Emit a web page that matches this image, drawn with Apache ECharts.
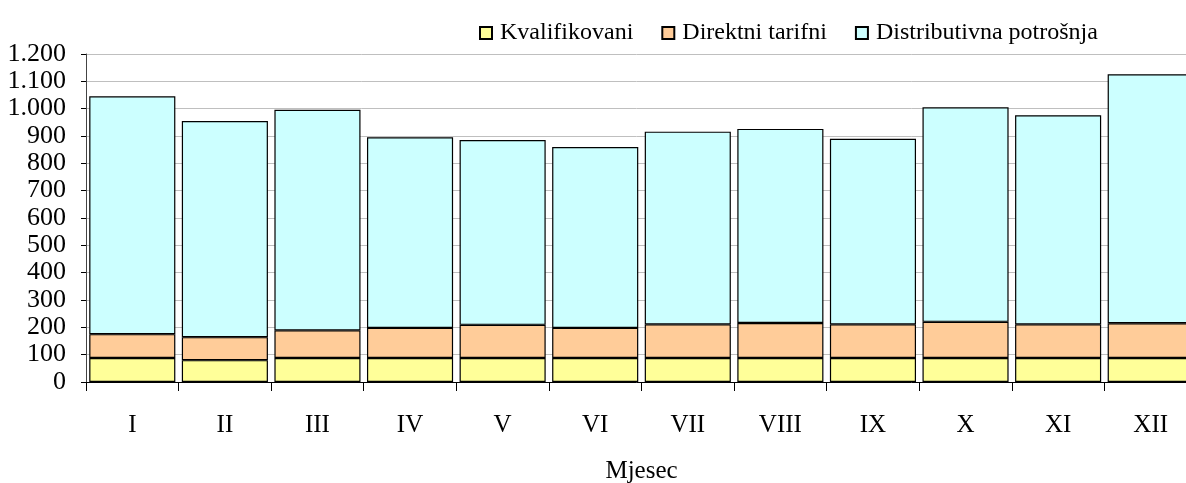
<!DOCTYPE html>
<html><head><meta charset="utf-8">
<script src="https://cdn.jsdelivr.net/npm/echarts@6/dist/echarts.min.js"></script>
<style>html,body{margin:0;padding:0;background:#fff}#c{width:1186px;height:483px}</style>
</head><body><div id="c"></div>
<script>
const categories = ['I','II','III','IV','V','VI','VII','VIII','IX','X','XI','XII'];
const kvalifikovani = [88,80,88,88,88,88,88,88,88,88,88,88];
const direktni = [87,84,101,110,121,110,123,128,123,132,123,127];
const distributivna = [870,791,807,697,676,662,705,710,679,785,765,911];
const seriesNames = ['Kvalifikovani','Direktni tarifni','Distributivna potrošnja'];
const colors = ['#FFFF99','#FFCC99','#CCFFFF'];
const font = '"Liberation Serif", "Times New Roman", serif';

const chart = echarts.init(document.getElementById('c'), null, {renderer:'canvas'});
const mk = (name, data, color) => ({
  name, type:'bar', stack:'t', data, barCategoryGap:'7%',
  itemStyle:{color, borderColor:'#000', borderWidth:1.2},
  emphasis:{disabled:true}
});
chart.setOption({
  animation:false,
  textStyle:{fontFamily:font},
  legend:{
    left:474, top:16, icon:'rect', itemWidth:12, itemHeight:12, itemGap:28,
    textStyle:{fontFamily:font, fontSize:24, color:'#000', padding:[0,0,0,3]},
    data:seriesNames
  },
  grid:{left:86, top:54, width:1111, bottom:101, containLabel:false, outerBoundsMode:'none'},
  xAxis:{
    type:'category', data:categories,
    name:'Mjesec', nameLocation:'middle', nameGap:77,
    nameTextStyle:{fontFamily:font, fontSize:25, color:'#000'},
    axisLine:{lineStyle:{color:'#000', width:1}},
    axisTick:{show:true, length:9, lineStyle:{color:'#000'}},
    axisLabel:{fontFamily:font, fontSize:25, color:'#000', margin:31}
  },
  yAxis:{
    type:'value', min:0, max:1200, interval:100,
    axisLine:{show:true, lineStyle:{color:'#444', width:1}},
    axisTick:{show:true, length:5, lineStyle:{color:'#000'}},
    splitLine:{show:true, lineStyle:{color:'#bfbfbf', width:1}},
    axisLabel:{fontFamily:font, fontSize:26, color:'#000', margin:20,
      showMinLabel:true, showMaxLabel:true, hideOverlap:false,
      formatter:v => String(v).replace(/\B(?=(\d{3})+(?!\d))/g,'.')}
  },
  series:[
    mk(seriesNames[0], kvalifikovani, colors[0]),
    mk(seriesNames[1], direktni, colors[1]),
    mk(seriesNames[2], distributivna, colors[2])
  ]
});
</script></body></html>
